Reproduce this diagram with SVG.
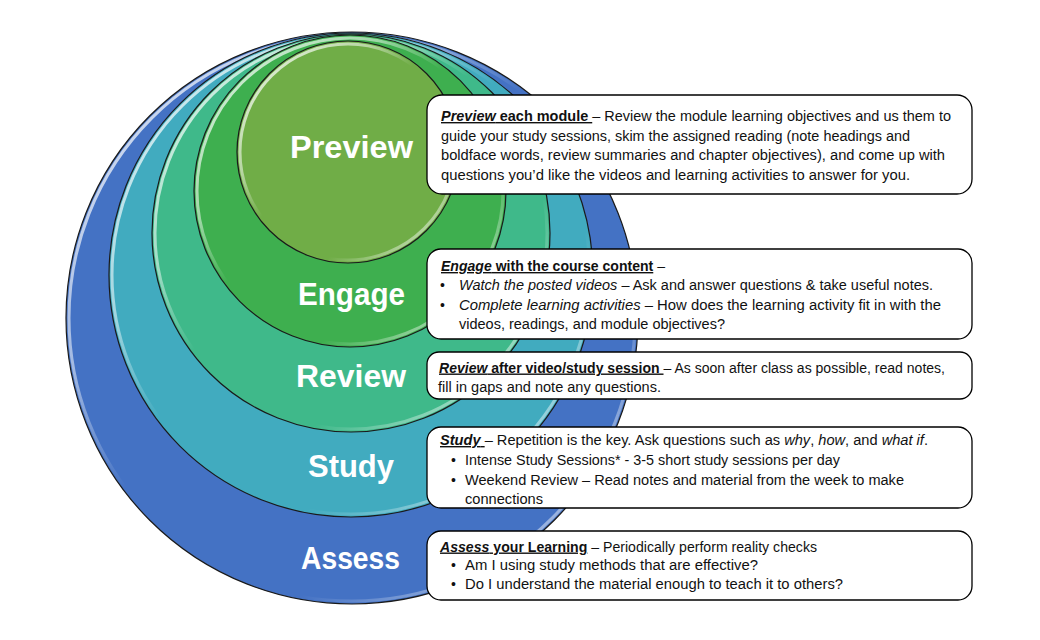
<svg xmlns="http://www.w3.org/2000/svg" width="1040" height="640" viewBox="0 0 1040 640">
<style>
.ring{stroke:#1a1a1a;stroke-width:1.2}
.hl{fill:none;stroke:url(#hl);stroke-width:3}
.lbl{font-family:"Liberation Sans",Arial,sans-serif;font-weight:bold;font-size:32px;fill:#ffffff}
.box{fill:#ffffff;stroke:#000000;stroke-width:1.3}
.t{font-family:"Liberation Sans",Arial,sans-serif;font-size:14px;fill:#111111}
.b{font-weight:bold}
.bi{font-weight:bold;font-style:italic}
.i{font-style:italic}
.u{text-decoration:underline}
</style>
<defs>
<linearGradient id="hl" x1="0" y1="0" x2="1" y2="1">
<stop offset="0" stop-color="#ffffff" stop-opacity="0.9"/>
<stop offset="0.3" stop-color="#ffffff" stop-opacity="0.5"/>
<stop offset="0.45" stop-color="#ffffff" stop-opacity="0"/>
<stop offset="0.7" stop-color="#ffffff" stop-opacity="0"/>
<stop offset="0.9" stop-color="#ffffff" stop-opacity="0.6"/>
</linearGradient>
</defs>
<rect width="1040" height="640" fill="#ffffff"/>

<g id="stage-assess">
<circle class="ring" cx="352" cy="318" r="286" fill="#4472C4"/>
<circle class="hl" cx="352" cy="318" r="283"/>
<text class="lbl" x="301" y="569" textLength="99" lengthAdjust="spacingAndGlyphs">Assess</text>
<rect class="box" x="427" y="531" width="545" height="69" rx="14"/>
<text class="t" x="440" y="551.5" textLength="377" lengthAdjust="spacingAndGlyphs"><tspan class="bi u">Assess</tspan><tspan class="b u"> your Learning</tspan> – Periodically perform reality checks</text>
<text class="t" x="451" y="570">•</text>
<text class="t" x="465" y="570" textLength="293" lengthAdjust="spacingAndGlyphs">Am I using study methods that are effective?</text>
<text class="t" x="451" y="588.5">•</text>
<text class="t" x="465" y="588.5" textLength="378" lengthAdjust="spacingAndGlyphs">Do I understand the material enough to teach it to others?</text>
</g>

<g id="stage-study">
<circle class="ring" cx="351" cy="275" r="242" fill="#41ABBF"/>
<circle class="hl" cx="351" cy="275" r="239"/>
<text class="lbl" x="308" y="477" textLength="86" lengthAdjust="spacingAndGlyphs">Study</text>
<rect class="box" x="427" y="427" width="545" height="81" rx="14"/>
<text class="t" x="440" y="445" textLength="488" lengthAdjust="spacingAndGlyphs"><tspan class="bi u">Study</tspan><tspan class="u"> </tspan>– Repetition is the key.  Ask questions such as <tspan class="i">why</tspan>, <tspan class="i">how</tspan>, and <tspan class="i">what if</tspan>.</text>
<text class="t" x="451" y="465">•</text>
<text class="t" x="465" y="465" textLength="375" lengthAdjust="spacingAndGlyphs">Intense Study Sessions* - 3-5 short study sessions per day</text>
<text class="t" x="451" y="485">•</text>
<text class="t" x="465" y="485" textLength="439" lengthAdjust="spacingAndGlyphs">Weekend Review – Read notes and material from the week to make</text>
<text class="t" x="465" y="504" textLength="78" lengthAdjust="spacingAndGlyphs">connections</text>
</g>

<g id="stage-review">
<circle class="ring" cx="351" cy="233" r="199" fill="#3FB98A"/>
<circle class="hl" cx="351" cy="233" r="196"/>
<text class="lbl" x="296" y="387" textLength="110" lengthAdjust="spacingAndGlyphs">Review</text>
<rect class="box" x="427" y="352" width="545" height="47" rx="12"/>
<text class="t" x="439" y="372.5" textLength="506" lengthAdjust="spacingAndGlyphs"><tspan class="bi u">Review</tspan><tspan class="b u"> after video/study session </tspan>– As soon after class as possible, read notes,</text>
<text class="t" x="438" y="391.5" textLength="223" lengthAdjust="spacingAndGlyphs">fill in gaps and note any questions.</text>
</g>

<g id="stage-engage">
<circle class="ring" cx="350" cy="191" r="156" fill="#3EAF4F"/>
<circle class="hl" cx="350" cy="191" r="153"/>
<text class="lbl" x="298" y="305" textLength="107" lengthAdjust="spacingAndGlyphs">Engage</text>
<rect class="box" x="427" y="249" width="545" height="90" rx="14"/>
<text class="t" x="441" y="271" textLength="224" lengthAdjust="spacingAndGlyphs"><tspan class="bi u">Engage</tspan><tspan class="b u"> with the course content</tspan> –</text>
<text class="t" x="440" y="290">•</text>
<text class="t" x="459" y="290" textLength="474" lengthAdjust="spacingAndGlyphs"><tspan class="i">Watch the posted videos</tspan> – Ask and answer questions &amp; take useful notes.</text>
<text class="t" x="440" y="309.5">•</text>
<text class="t" x="459" y="309.5" textLength="482" lengthAdjust="spacingAndGlyphs"><tspan class="i">Complete learning activities</tspan> – How does the learning activity fit in with the</text>
<text class="t" x="459" y="329" textLength="266" lengthAdjust="spacingAndGlyphs">videos, readings, and module objectives?</text>
</g>

<g id="stage-preview">
<circle class="ring" cx="348" cy="152" r="111" fill="#70AD47"/>
<circle class="hl" cx="348" cy="152" r="108"/>
<text class="lbl" x="290" y="158" textLength="123" lengthAdjust="spacingAndGlyphs">Preview</text>
<rect class="box" x="427" y="95" width="545" height="99" rx="15"/>
<text class="t" x="441" y="121" textLength="510" lengthAdjust="spacingAndGlyphs"><tspan class="bi u">Preview</tspan><tspan class="b u"> each module </tspan>– Review the module  learning objectives and us them to</text>
<text class="t" x="441" y="140.5" textLength="469" lengthAdjust="spacingAndGlyphs">guide your study sessions, skim the assigned reading (note headings and</text>
<text class="t" x="441" y="160" textLength="504" lengthAdjust="spacingAndGlyphs">boldface words, review summaries and chapter objectives), and come up with</text>
<text class="t" x="441" y="179.5" textLength="469" lengthAdjust="spacingAndGlyphs">questions you’d  like the videos and learning activities to answer for you.</text>
</g>
</svg>
